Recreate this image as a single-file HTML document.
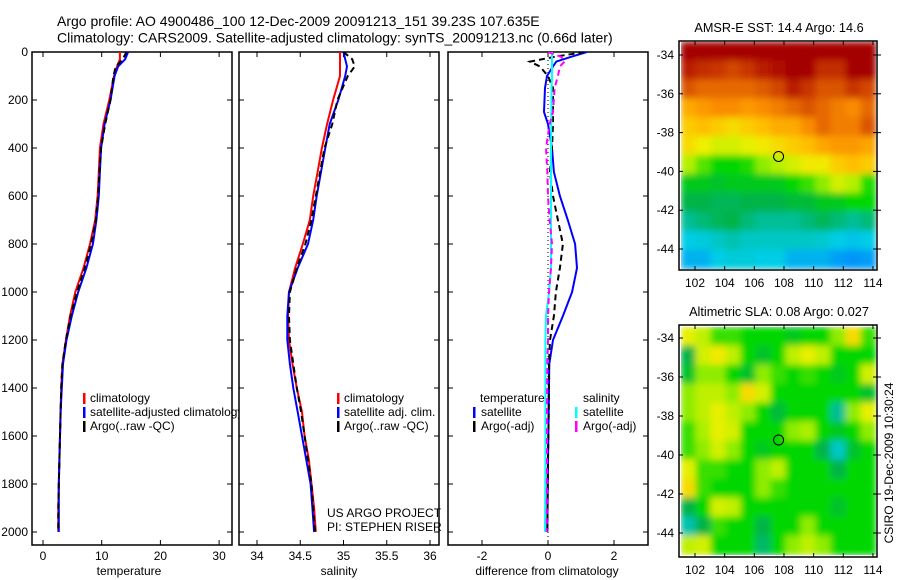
<!DOCTYPE html>
<html><head><meta charset="utf-8"><style>
body{margin:0;background:#fff}
svg{display:block;font-family:"Liberation Sans",sans-serif}
text{font-size:12px;fill:#000}
</style></head><body>
<svg id="c" width="900" height="580" viewBox="0 0 900 580">
<defs>
<filter id="blur" x="0" y="0" width="1" height="1"><feGaussianBlur stdDeviation="3.5" edgeMode="duplicate"/></filter>
<clipPath id="cp1"><rect x="32" y="52" width="200" height="493"/></clipPath>
<clipPath id="cp2"><rect x="239" y="52" width="200" height="493"/></clipPath>
<clipPath id="cp3"><rect x="448" y="52" width="200" height="493"/></clipPath>
<clipPath id="cm1"><rect x="681" y="42" width="195" height="227"/></clipPath>
<clipPath id="cm2"><rect x="681" y="327" width="195" height="228"/></clipPath>
</defs>
<text x="57" y="26" style="font-size:14px">Argo profile: AO 4900486_100 12-Dec-2009 20091213_151 39.23S 107.635E</text>
<text x="57" y="42.5" style="font-size:14px">Climatology: CARS2009. Satellite-adjusted climatology: synTS_20091213.nc (0.66d later)</text>
<g id="g"></g>
</svg>
<script>
// ---- data ----
const depthT = [0,30,60,100,200,300,400,500,600,700,800,900,1000,1100,1200,1300,1400,1500,1600,1700,1800,1900,2000];
const tempClim = [13.1,13.1,12.6,12.1,11.3,10.3,9.7,9.5,9.3,8.9,8.0,6.9,5.5,4.6,3.9,3.3,3.1,3.0,2.9,2.8,2.7,2.6,2.6];
const tempSat  = [14.5,14.0,12.8,12.2,11.5,10.5,9.9,9.7,9.5,9.1,8.5,7.4,6.0,4.9,4.0,3.4,3.2,3.0,2.9,2.8,2.7,2.7,2.7];
const tempArgo = [14.2,13.6,12.4,12.0,11.5,10.6,9.9,9.6,9.4,9.0,8.2,7.1,5.8,4.7,3.9,3.3,3.1,3.0,2.9,2.8,2.7,2.6,2.6];
const salClim = [34.96,34.96,34.96,34.96,34.88,34.81,34.75,34.70,34.65,34.61,34.53,34.44,34.37,34.36,34.37,34.41,34.46,34.52,34.55,34.60,34.63,34.66,34.68];
const salSat  = [35.00,35.02,35.04,35.02,34.94,34.84,34.79,34.74,34.69,34.65,34.59,34.47,34.37,34.35,34.35,34.38,34.42,34.47,34.52,34.57,34.62,34.64,34.66];
const salArgo = [35.00,35.10,35.13,35.05,34.93,34.87,34.78,34.73,34.68,34.63,34.56,34.46,34.38,34.37,34.38,34.42,34.46,34.51,34.55,34.59,34.63,34.65,34.67];
const depthD = [0,20,40,60,100,150,250,300,400,500,600,700,800,900,1000,1100,1200,1300,1500,1700,2000];
const dTempSat  = [1.18,0.7,0.25,0.15,-0.03,-0.09,-0.12,0.0,0.12,0.18,0.36,0.6,0.82,0.88,0.73,0.45,0.15,0.04,0.02,0.0,-0.02];
const dTempArgo = [1.1,0.2,-0.55,-0.25,0.0,0.15,0.15,0.15,0.12,0.06,0.15,0.3,0.45,0.36,0.24,0.18,0.06,0.03,0.02,0.0,-0.02];
const dSalSat   = [0.12,0.12,0.12,0.12,0.12,0.11,0.1,0.1,0.09,0.09,0.09,0.09,0.09,0.09,0.03,-0.06,-0.08,-0.08,-0.08,-0.08,-0.09];
const dSalArgo  = [0.0,0.4,0.5,0.36,0.3,0.2,0.15,0.05,-0.06,-0.02,0.0,0.05,0.12,0.09,0.03,0.0,0.0,-0.02,-0.03,-0.03,-0.04];
const depthTicks = [0,200,400,600,800,1000,1200,1400,1600,1800,2000];
const tTicks = [0,10,20,30];
const sTicks = [34,34.5,35,35.5,36];
const dTicks = [-2,0,2];
const lonTicks = [102,104,106,108,110,112,114];
const latTicks = [-34,-36,-38,-40,-42,-44];
const sstGrid = [
[0.97,0.97,0.97,0.97,0.97,0.97,0.97,0.97,0.97,0.97,0.97,0.97,0.97],
[0.93,0.91,0.9,0.88,0.9,0.93,0.95,0.97,0.97,0.91,0.91,0.97,0.97],
[0.86,0.83,0.83,0.83,0.83,0.85,0.88,0.93,0.9,0.86,0.86,0.9,0.88],
[0.73,0.76,0.78,0.78,0.76,0.78,0.8,0.83,0.86,0.83,0.8,0.78,0.83],
[0.68,0.7,0.68,0.66,0.68,0.7,0.73,0.73,0.78,0.83,0.8,0.8,0.86],
[0.66,0.63,0.6,0.6,0.62,0.64,0.66,0.68,0.7,0.74,0.76,0.76,0.74],
[0.57,0.53,0.5,0.5,0.51,0.55,0.57,0.6,0.64,0.64,0.68,0.7,0.68],
[0.48,0.48,0.47,0.48,0.48,0.48,0.48,0.5,0.52,0.55,0.6,0.57,0.51],
[0.45,0.45,0.44,0.44,0.45,0.45,0.45,0.46,0.46,0.48,0.48,0.5,0.5],
[0.4,0.42,0.44,0.45,0.42,0.4,0.4,0.4,0.42,0.44,0.42,0.4,0.42],
[0.33,0.34,0.36,0.38,0.36,0.36,0.36,0.36,0.36,0.35,0.33,0.32,0.33],
[0.3,0.3,0.33,0.34,0.34,0.33,0.33,0.3,0.3,0.3,0.28,0.27,0.28]];
const slaGrid = [
[0.62,0.58,0.52,0.52,0.5,0.5,0.5,0.48,0.5,0.5,0.55,0.66,0.52],
[0.45,0.6,0.64,0.58,0.5,0.47,0.5,0.58,0.62,0.58,0.5,0.5,0.5],
[0.47,0.55,0.55,0.5,0.47,0.55,0.52,0.5,0.52,0.5,0.48,0.5,0.6],
[0.55,0.58,0.58,0.55,0.66,0.6,0.5,0.5,0.5,0.5,0.5,0.5,0.47],
[0.55,0.58,0.62,0.58,0.55,0.5,0.46,0.5,0.5,0.5,0.4,0.55,0.62],
[0.52,0.56,0.62,0.6,0.5,0.5,0.5,0.55,0.56,0.5,0.48,0.5,0.55],
[0.52,0.55,0.6,0.55,0.5,0.48,0.5,0.5,0.5,0.45,0.36,0.47,0.5],
[0.62,0.52,0.52,0.5,0.5,0.55,0.58,0.5,0.5,0.5,0.45,0.5,0.5],
[0.66,0.52,0.5,0.5,0.5,0.55,0.52,0.5,0.5,0.5,0.5,0.5,0.5],
[0.45,0.5,0.6,0.58,0.5,0.5,0.5,0.5,0.5,0.5,0.47,0.5,0.5],
[0.38,0.45,0.52,0.5,0.5,0.45,0.5,0.5,0.55,0.5,0.5,0.5,0.5],
[0.58,0.6,0.5,0.5,0.5,0.43,0.5,0.55,0.58,0.55,0.5,0.5,0.5]];
const argoLon = 107.635, argoLat = -39.23;

// ---- helpers ----
const NS='http://www.w3.org/2000/svg';
const G=document.getElementById('g');
function mk(tag,attrs,parent){const e=document.createElementNS(NS,tag);for(const k in attrs)e.setAttribute(k,attrs[k]);(parent||G).appendChild(e);return e;}
const yD = d => 52 + d*0.24;
const xT = v => 43 + v*5.87;
const xS = v => 257 + (v-34)*86.5;
const xDf = v => 548 + v*33;

function frame(x0,x1,name){
  const r=mk('rect',{x:x0,y:52,width:x1-x0,height:493,fill:'none',stroke:'#000','stroke-width':1.5});
  
  
  depthTicks.forEach(d=>{mk('line',{x1:x0,x2:x0+5,y1:yD(d),y2:yD(d),stroke:'#000'});mk('line',{x1:x1-5,x2:x1,y1:yD(d),y2:yD(d),stroke:'#000'});});
}
function xticks(ticks,fx,name){
  ticks.forEach(t=>{const x=fx(t);
    mk('line',{x1:x,x2:x,y1:52,y2:57,stroke:'#000'});mk('line',{x1:x,x2:x,y1:540,y2:545,stroke:'#000'});
    const tx=mk('text',{x:x,y:560,'text-anchor':'middle'});tx.textContent=t;
    
    });
}
function line(xs,ds,fx,color,dash,name,clip){
  const pts=xs.map((v,i)=>fx(v).toFixed(1)+','+yD(ds[i]).toFixed(1)).join(' ');
  const a={points:pts,fill:'none',stroke:color,'stroke-width':2,'clip-path':'url(#'+clip+')'};
  if(dash)a['stroke-dasharray']=dash;
  const p=mk('polyline',a);
  
  
}
function txt(x,y,s,name,anchor){const t=mk('text',{x:x,y:y,'text-anchor':anchor||'start'});t.textContent=s;
  
  return t;}
function legendBar(x,y,color){mk('rect',{x:x,y:y-10,width:2.5,height:11,fill:color});}

// ---- panel 1 ----
frame(32,232,'temperature-panel-frame');
depthTicks.forEach(d=>{txt(28,yD(d)+4,d,'depth-tick-label','end');});
xticks(tTicks,xT,'temperature-tick-label');
line(tempClim,depthT,xT,'#f00',null,'temp-climatology-line','cp1');
line(tempSat,depthT,xT,'#00f',null,'temp-satellite-line','cp1');
line(tempArgo,depthT,xT,'#000','6 4','temp-argo-line','cp1');
txt(129,575,'temperature','x-axis-title-temperature','middle');
legendBar(83,403,'#f00');legendBar(83,417,'#00f');legendBar(83,431,'#000');
mk('clipPath',{id:'cl1'},G).appendChild(mk('rect',{x:0,y:0,width:239,height:580}));
txt(90,402,'climatology','legend-climatology');
const l2=txt(90,416,'satellite-adjusted climatology','legend-satellite-adjusted');l2.setAttribute('clip-path','url(#cl1)');
txt(90,430,'Argo(..raw -QC)','legend-argo');

// ---- panel 2 ----
frame(239,439,'salinity-panel-frame');
xticks(sTicks,xS,'salinity-tick-label');
line(salClim,depthT,xS,'#f00',null,'sal-climatology-line','cp2');
line(salSat,depthT,xS,'#00f',null,'sal-satellite-line','cp2');
line(salArgo,depthT,xS,'#000','6 4','sal-argo-line','cp2');
txt(339,575,'salinity','x-axis-title-salinity','middle');
legendBar(337,403,'#f00');legendBar(337,417,'#00f');legendBar(337,431,'#000');
txt(344,402,'climatology','legend-climatology-2');
txt(344,416,'satellite adj. clim.','legend-satellite-adj-2');
txt(344,430,'Argo(..raw -QC)','legend-argo-2');
txt(327,517,'US ARGO PROJECT','project-label');
txt(327,531,'PI: STEPHEN RISER','pi-label');

// ---- panel 3 ----
frame(448,648,'difference-panel-frame');
xticks(dTicks,xDf,'difference-tick-label');
mk('line',{x1:548,x2:548,y1:52,y2:545,stroke:'#000','stroke-dasharray':'1 3'});
line(dTempSat,depthD,xDf,'#00f',null,'diff-temp-satellite-line','cp3');
line(dTempArgo,depthD,xDf,'#000','6 4','diff-temp-argo-line','cp3');
line(dSalSat,depthD,xDf,'#0ff',null,'diff-sal-satellite-line','cp3');
line(dSalArgo,depthD,xDf,'#f0f','6 4','diff-sal-argo-line','cp3');
txt(547,575,'difference from climatology','x-axis-title-difference','middle');
txt(480,402,'temperature','legend-temperature-heading');
txt(583,402,'salinity','legend-salinity-heading');
legendBar(473,417,'#00f');legendBar(473,431,'#000');legendBar(575,417,'#0ff');legendBar(575,431,'#f0f');
txt(481,416,'satellite','legend-temp-satellite');txt(481,430,'Argo(-adj)','legend-temp-argo');
txt(583,416,'satellite','legend-sal-satellite');txt(583,430,'Argo(-adj)','legend-sal-argo');

// ---- maps ----
const stops=[[0.25,[0,130,255]],[0.33,[0,205,230]],[0.4,[0,190,150]],[0.45,[0,180,70]],[0.5,[0,215,0]],[0.56,[170,240,0]],[0.63,[240,240,0]],[0.7,[255,190,0]],[0.78,[250,140,0]],[0.88,[210,70,0]],[0.97,[165,0,0]]];
function cmap(v){if(v<=stops[0][0])return 'rgb('+stops[0][1]+')';
  for(let i=1;i<stops.length;i++){if(v<=stops[i][0]){const a=stops[i-1],b=stops[i],f=(v-a[0])/(b[0]-a[0]);
    return 'rgb('+a[1].map((c,k)=>Math.round(c+(b[1][k]-c)*f)).join(',')+')';}}
  return 'rgb('+stops[stops.length-1][1]+')';}
function map(grid,fx0,fy0,fw,fh,img,lat0y,latScale,clip,name,title,titleName){
  const gg=mk('g',{'clip-path':'url(#'+clip+')'});
  const inner=mk('g',{filter:'url(#blur)'},gg);
  const rows=grid.length,cols=grid[0].length,cw=img.w/cols,ch=img.h/rows;
  grid.forEach((row,r)=>row.forEach((v,c)=>{
    const cell=mk('rect',{x:img.x+c*cw-0.5,y:img.y+r*ch-0.5,width:cw+1,height:ch+1,fill:cmap(v)},inner);
    
    
  }));
  const fr=mk('rect',{x:fx0,y:fy0,width:fw,height:fh,fill:'none',stroke:'#000','stroke-width':1.5});
  
  
  const lx=lon=>695+(lon-102)*14.83, ly=lat=>lat0y+(-34-lat)*latScale;
  lonTicks.forEach(l=>{const x=lx(l);mk('line',{x1:x,x2:x,y1:fy0,y2:fy0+4,stroke:'#000'});mk('line',{x1:x,x2:x,y1:fy0+fh-4,y2:fy0+fh,stroke:'#000'});
    txt(x,fy0+fh+17,l,'map-lon-tick-label','middle');});
  latTicks.forEach(l=>{const y=ly(l);mk('line',{x1:fx0,x2:fx0+4,y1:y,y2:y,stroke:'#000'});mk('line',{x1:fx0+fw-4,x2:fx0+fw+4,y1:y,y2:y,stroke:'#000'});
    txt(674,y+4,l,'map-lat-tick-label','end');});
  const c=mk('circle',{cx:lx(argoLon),cy:ly(argoLat),r:5,fill:'none',stroke:'#000','stroke-width':1});
  
  
  const t=txt(779,fy0-9,title,titleName,'middle');
  t.setAttribute('style','font-size:12.7px');
}
map(sstGrid,679,41,198,229,{x:681,y:42,w:195,h:227},55,19.4,'cm1','sst-map-frame','AMSR-E SST: 14.4 Argo: 14.6','sst-map-title');
map(slaGrid,679,325,198,232,{x:681,y:327,w:195,h:228},338,19.5,'cm2','sla-map-frame','Altimetric SLA: 0.08 Argo: 0.027','sla-map-title');
const rt=txt(0,0,'CSIRO 19-Dec-2009 10:30:24','timestamp-label','middle');
rt.setAttribute('transform','translate(893,463) rotate(-90)');
</script>
</body></html>
